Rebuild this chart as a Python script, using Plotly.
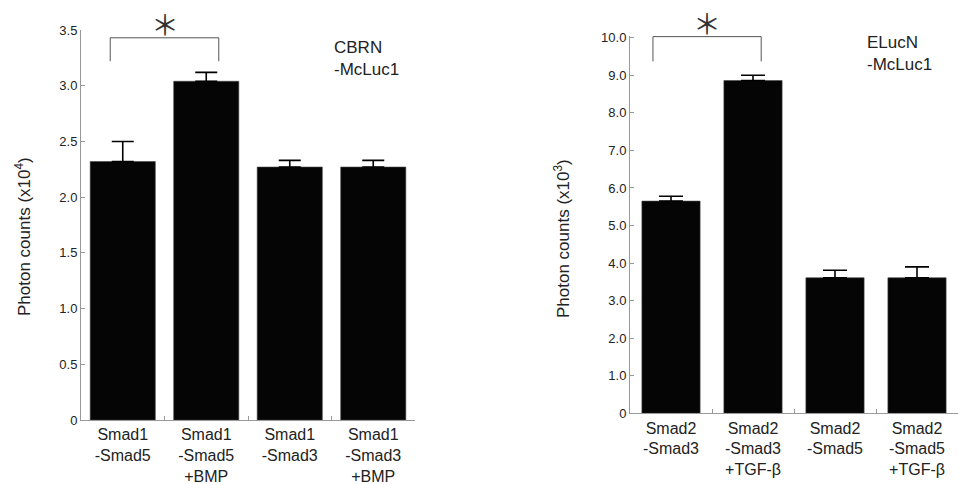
import plotly.graph_objects as go

# ---------------- data ----------------
left_categories = ["Smad1<br>-Smad5", "Smad1<br>-Smad5<br>+BMP", "Smad1<br>-Smad3", "Smad1<br>-Smad3<br>+BMP"]
left_values = [2.32, 3.04, 2.27, 2.27]
left_errors = [0.18, 0.08, 0.06, 0.06]
left_tickvals = [0, 0.5, 1.0, 1.5, 2.0, 2.5, 3.0, 3.5]
left_ticktext = ["0", "0.5", "1.0", "1.5", "2.0", "2.5", "3.0", "3.5"]
left_label = "CBRN<br>-McLuc1"
left_ytitle = "Photon counts (x10<sup>4</sup>)"
left_bracket_x = [-0.15, 1.15]
left_bracket_y = [3.22, 3.43]

right_categories = ["Smad2<br>-Smad3", "Smad2<br>-Smad3<br>+TGF-β", "Smad2<br>-Smad5", "Smad2<br>-Smad5<br>+TGF-β"]
right_values = [5.65, 8.86, 3.61, 3.61]
right_errors = [0.13, 0.14, 0.20, 0.29]
right_tickvals = [0, 1, 2, 3, 4, 5, 6, 7, 8, 9, 10]
right_ticktext = ["0", "1.0", "2.0", "3.0", "4.0", "5.0", "6.0", "7.0", "8.0", "9.0", "10.0"]
right_label = "ELucN<br>-McLuc1"
right_ytitle = "Photon counts (x10<sup>3</sup>)"
right_bracket_x = [-0.22, 1.1]
right_bracket_y = [9.37, 10.03]

# ---------------- styles ----------------
W, H = 959, 484
FONT = "Liberation Sans, Arial, sans-serif"
TXT = "#222222"
AX = "#999999"

fig = go.Figure()

def add_bars(cats, vals, errs, xa, ya, width, cap):
    fig.add_trace(go.Bar(
        x=cats, y=vals, xaxis=xa, yaxis=ya, width=width,
        marker=dict(color="#050505", line=dict(color="#444444", width=0.6)),
        error_y=dict(type="data", symmetric=False, array=errs,
                     arrayminus=[0] * len(errs), color="#000000",
                     thickness=1.6, width=cap),
        showlegend=False, hoverinfo="skip",
    ))

add_bars(left_categories, left_values, left_errors, "x", "y", 0.78, 11)
add_bars(right_categories, right_values, right_errors, "x2", "y2", 0.71, 12)

def px_x(p):
    return p / W

def px_y(p):
    return 1 - p / H

axis_common = dict(showgrid=False, zeroline=False, showline=True, linecolor=AX,
                   linewidth=1, ticks="inside", tickcolor=AX, ticklen=4,
                   automargin=False,
                   tickfont=dict(family=FONT, size=13, color=TXT))
xfont = dict(family=FONT, size=16, color=TXT)

fig.update_layout(
    width=W, height=H, margin=dict(l=0, r=0, t=0, b=0, autoexpand=False),
    paper_bgcolor="white", plot_bgcolor="white", bargap=0.2,
    xaxis=dict(domain=[px_x(81), px_x(415)], anchor="y", type="category",
               tickson="boundaries", **{**axis_common, "tickfont": xfont}),
    yaxis=dict(domain=[px_y(420), px_y(30)], anchor="x", range=[0, 3.5],
               tickmode="array", tickvals=left_tickvals, ticktext=left_ticktext,
               **axis_common),
    xaxis2=dict(domain=[px_x(630), px_x(958)], anchor="y2", type="category",
                tickson="boundaries", **{**axis_common, "tickfont": xfont}),
    yaxis2=dict(domain=[px_y(413.3), px_y(35.5)], anchor="x2", range=[0, 10.06],
                tickmode="array", tickvals=right_tickvals, ticktext=right_ticktext,
                **axis_common),
)

def bracket(xr, yr, xref, yref):
    line = dict(color="#555555", width=1)
    fig.add_shape(type="line", xref=xref, yref=yref, x0=xr[0], x1=xr[1], y0=yr[1], y1=yr[1], line=line)
    fig.add_shape(type="line", xref=xref, yref=yref, x0=xr[0], x1=xr[0], y0=yr[0], y1=yr[1], line=line)
    fig.add_shape(type="line", xref=xref, yref=yref, x0=xr[1], x1=xr[1], y0=yr[0], y1=yr[1], line=line)
    # significance star above the bracket
    fig.add_annotation(text="＊", xref=xref, yref=yref, x=sum(xr) / 2, y=yr[1],
                       yshift=14, showarrow=False, yanchor="middle",
                       font=dict(family="Noto Sans CJK JP", size=28, color="#333333"))

bracket(left_bracket_x, left_bracket_y, "x", "y")
bracket(right_bracket_x, right_bracket_y, "x2", "y2")

LBL = dict(family=FONT, size=17, color=TXT)
fig.add_annotation(text=left_label, xref="paper", yref="paper", x=px_x(332), y=px_y(36),
                   xanchor="left", yanchor="top", align="left", showarrow=False, font=LBL)
fig.add_annotation(text=right_label, xref="paper", yref="paper", x=px_x(865), y=px_y(31),
                   xanchor="left", yanchor="top", align="left", showarrow=False, font=LBL)

fig.add_annotation(text=left_ytitle, xref="paper", yref="paper", x=px_x(23), y=px_y(237),
                   textangle=-90, showarrow=False, font=LBL, xanchor="center", yanchor="middle")
fig.add_annotation(text=right_ytitle, xref="paper", yref="paper", x=px_x(562), y=px_y(239),
                   textangle=-90, showarrow=False, font=LBL, xanchor="center", yanchor="middle")

fig.write_html("out.html", config={"displayModeBar": False},
               post_script="document.body.style.margin='0';")
